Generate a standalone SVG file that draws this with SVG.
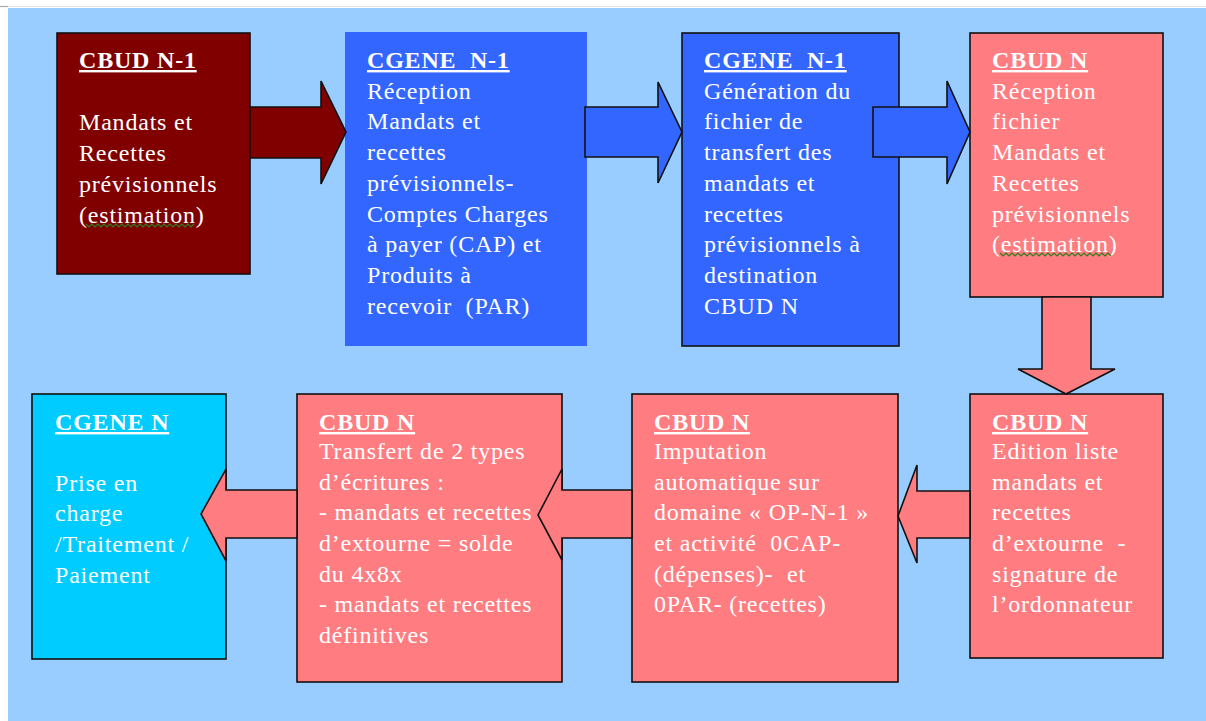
<svg xmlns="http://www.w3.org/2000/svg" width="1206" height="721" viewBox="0 0 1206 721">
<style>
  .bg { fill: #99CCFF; }
  .box { stroke: #111; stroke-width: 1.6; }
  .red { fill: #800000; }
  .blue { fill: #3366FF; }
  .pink { fill: #FF7C80; }
  .cyan { fill: #00CCFF; }
  .arrow { stroke: #111; stroke-width: 1.6; stroke-linejoin: miter; }
  text { font-family: "Liberation Serif", "Times New Roman", serif; font-size: 24px; fill: #ffffff; letter-spacing: 0.8px; white-space: pre; }
  .title { font-weight: bold; text-decoration: underline; }
  .squiggle { fill: none; stroke: #2e7d1e; stroke-width: 1.2; }
</style>
<rect x="0" y="0" width="1206" height="721" fill="#ffffff"/>
<line x1="0" y1="6.5" x2="1206" y2="6.5" stroke="#e4e4e4" stroke-width="1"/>
<line x1="0" y1="6.5" x2="8" y2="6.5" stroke="#aaaaaa" stroke-width="1.2"/>
<rect class="bg" x="8" y="8" width="1198" height="713"/>

<g id="node-cbud-n1">
  <rect class="box red" x="57" y="33" width="193" height="241"/>
  <text class="title" x="79" y="68">CBUD N-1</text>
  <text x="79" y="130">Mandats et</text>
  <text x="79" y="161">Recettes</text>
  <text x="79" y="192">prévisionnels</text>
  <text x="79" y="223">(estimation)</text>
  <path class="squiggle" d="M86 224 l3 3 l3 -3 l3 3 l3 -3 l3 3 l3 -3 l3 3 l3 -3 l3 3 l3 -3 l3 3 l3 -3 l3 3 l3 -3 l3 3 l3 -3 l3 3 l3 -3 l3 3 l3 -3 l3 3 l3 -3 l3 3 l3 -3 l3 3 l3 -3 l3 3 l3 -3 l3 3 l3 -3 l3 3 l3 -3 l3 3 l3 -3 l3 3 l3 -3"/>
</g>

<g id="node-cgene-n1-reception">
  <rect class="blue" x="345" y="32" width="242" height="314"/>
  <text class="title" x="367" y="68">CGENE  N-1</text>
  <text x="367" y="99">Réception</text>
  <text x="367" y="129">Mandats et</text>
  <text x="367" y="160">recettes</text>
  <text x="367" y="191">prévisionnels-</text>
  <text x="367" y="222">Comptes Charges</text>
  <text x="367" y="252">à payer (CAP) et</text>
  <text x="367" y="283">Produits à</text>
  <text x="367" y="314">recevoir  (PAR)</text>
</g>

<g id="node-cgene-n1-generation">
  <rect class="box blue" x="682" y="33" width="217" height="313"/>
  <text class="title" x="704" y="68">CGENE  N-1</text>
  <text x="704" y="99">Génération du</text>
  <text x="704" y="129">fichier de</text>
  <text x="704" y="160">transfert des</text>
  <text x="704" y="191">mandats et</text>
  <text x="704" y="222">recettes</text>
  <text x="704" y="252">prévisionnels à</text>
  <text x="704" y="283">destination</text>
  <text x="704" y="314">CBUD N</text>
</g>

<g id="node-cbud-n-reception">
  <rect class="box pink" x="970" y="33" width="193" height="264"/>
  <text class="title" x="992" y="68">CBUD N</text>
  <text x="992" y="99">Réception</text>
  <text x="992" y="129">fichier</text>
  <text x="992" y="160">Mandats et</text>
  <text x="992" y="191">Recettes</text>
  <text x="992" y="222">prévisionnels</text>
  <text x="992" y="252">(estimation)</text>
  <path class="squiggle" d="M1000 253 l3 3 l3 -3 l3 3 l3 -3 l3 3 l3 -3 l3 3 l3 -3 l3 3 l3 -3 l3 3 l3 -3 l3 3 l3 -3 l3 3 l3 -3 l3 3 l3 -3 l3 3 l3 -3 l3 3 l3 -3 l3 3 l3 -3 l3 3 l3 -3 l3 3 l3 -3 l3 3 l3 -3 l3 3 l3 -3 l3 3 l3 -3 l3 3 l3 -3 l3 3"/>
</g>

<g id="node-cbud-n-edition">
  <rect class="box pink" x="970" y="394" width="193" height="264"/>
  <text class="title" x="992" y="430">CBUD N</text>
  <text x="992" y="459">Edition liste</text>
  <text x="992" y="490">mandats et</text>
  <text x="992" y="520">recettes</text>
  <text x="992" y="551">d’extourne  -</text>
  <text x="992" y="582">signature de</text>
  <text x="992" y="612">l’ordonnateur</text>
</g>

<g id="node-cbud-n-imputation">
  <rect class="box pink" x="632" y="394" width="266" height="288"/>
  <text class="title" x="654" y="430">CBUD N</text>
  <text x="654" y="459">Imputation</text>
  <text x="654" y="490">automatique sur</text>
  <text x="654" y="520">domaine « OP-N-1 »</text>
  <text x="654" y="551">et activité  0CAP-</text>
  <text x="654" y="582">(dépenses)-  et</text>
  <text x="654" y="612">0PAR- (recettes)</text>
</g>

<g id="node-cbud-n-transfert">
  <rect class="box pink" x="297" y="394" width="265" height="288"/>
  <text class="title" x="319" y="430">CBUD N</text>
  <text x="319" y="459">Transfert de 2 types</text>
  <text x="319" y="490">d’écritures :</text>
  <text x="319" y="520">- mandats et recettes</text>
  <text x="319" y="551">d’extourne = solde</text>
  <text x="319" y="582">du 4x8x</text>
  <text x="319" y="612">- mandats et recettes</text>
  <text x="319" y="643">définitives</text>
</g>

<g id="node-cgene-n">
  <rect class="box cyan" x="32" y="394" width="194" height="265"/>
  <text class="title" x="55" y="430">CGENE N</text>
  <text x="55" y="491">Prise en</text>
  <text x="55" y="521">charge</text>
  <text x="55" y="552">/Traitement /</text>
  <text x="55" y="583">Paiement</text>
</g>

<g id="connectors">
  <polygon class="arrow red" points="250,107 321,107 321,81 346,132 321,184 321,158 250,158"/>
  <polygon class="arrow blue" points="585,107 658,107 658,82 682,132 658,183 658,157 585,157"/>
  <polygon class="arrow blue" points="873,107 947,107 947,81 970,132 947,184 947,157 873,157"/>
  <polygon class="arrow pink" points="1042,297 1091,297 1091,369 1115,369 1066,394 1018,369 1042,369"/>
  <polygon class="arrow pink" points="970,491 917,491 917,465 898,516 917,563 917,538 970,538"/>
  <polygon class="arrow pink" points="632,490 562,490 562,469 538,515 562,560 562,538 632,538"/>
  <polygon class="arrow pink" points="297,490 226,490 226,469 201,514 226,561 226,538 297,538"/>
</g>
</svg>
